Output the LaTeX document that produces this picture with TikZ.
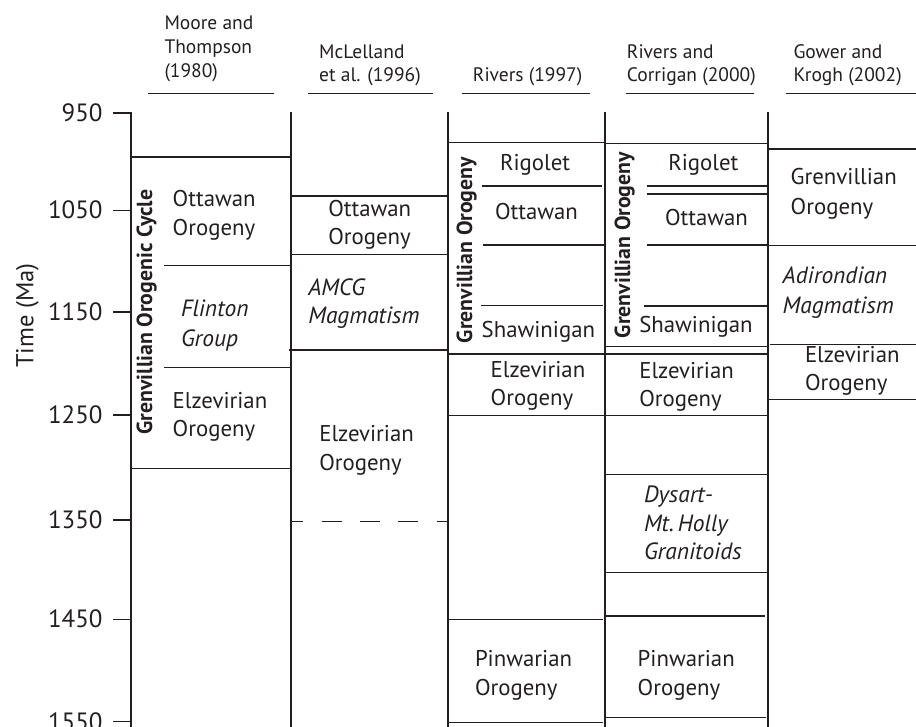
\documentclass[tikz,border=0pt]{standalone}
\usepackage{fontspec}
\setmainfont{PT Sans}
\definecolor{ink}{HTML}{231F20}
\begin{document}
\begin{tikzpicture}[x=1pt,y=-1pt,
  hl/.style={line width=1.5pt, draw=ink},
  vl/.style={line width=2pt, draw=ink},
  body/.style={font=\fontsize{22.8}{28.3}\selectfont, inner sep=0pt, outer sep=0pt, anchor=base west, align=left, text=ink},
  ital/.style={body, font=\fontsize{23.5}{28.3}\selectfont\itshape},
  head/.style={font=\fontsize{19.5}{23.4}\selectfont, inner sep=0pt, anchor=base west, align=left, text=ink},
  ticklab/.style={font=\fontsize{25}{28}\selectfont, inner sep=0pt, anchor=base east, text=ink},
  vert/.style={font=\fontsize{21.8}{24}\selectfont\bfseries, rotate=90, anchor=base, inner sep=0pt, text=ink}]
\useasboundingbox (0,0) rectangle (916,727);

% ---------- headers (base anchor = last line) ----------
\node[head] (hMoore) at (164.3,77.7) {Moore and\\[0.9pt]Thompson\\[0.9pt](1980)};
\node[head] (hMcL) at (319,81.7) {McLelland\\et al. (1996)};
\node[head] (hRiv) at (472.7,81.7) {Rivers (1997)};
\node[head] (hRC) at (626.7,81.7) {Rivers and\\Corrigan (2000)};
\node[head] (hGK) at (793.3,81.7) {Gower and\\Krogh (2002)};
\draw[hl] (148.3,93.3) -- (274,93.3);
\draw[hl] (308.3,93.3) -- (433.3,93.3);
\draw[hl] (462.3,93.3) -- (590,93.3);
\draw[hl] (626,93.3) -- (754,93.3);
\draw[hl] (786,93.3) -- (916,93.3);

% ---------- axis ----------
\node[font=\fontsize{24.5}{28}\selectfont, rotate=90, anchor=base, inner sep=0pt, text=ink] (axlab) at (33.3,315.5) {Time (Ma)};
\draw[vl] (113.3,113.3) -- (130.7,113.3) -- (130.7,727);
\foreach \t/\yy in {1050/210.7,1150/312,1250/415,1350/520,1450/619.3,1550/721.7}
  \draw[hl] (113.3,\yy) -- (130.7,\yy);
\foreach \t/\yy in {950/113.3,1050/210.7,1150/312,1250/415,1350/520,1450/619.3,1550/721.7}
  \node[ticklab] (t\t) at (102.7,\yy+8.3) {\t};

% ---------- column borders ----------
\foreach \xx in {290.7,448.3,605,768}
  \draw[vl] (\xx,112.3) -- (\xx,727);

% ---------- column 1 ----------
\draw[hl] (130.7,157) -- (290.7,157);
\draw[hl] (164,265.7) -- (290.7,265.7);
\draw[hl] (164,367.3) -- (290.7,367.3);
\draw[hl] (130.7,468.5) -- (290.7,468.5);
\node[vert] (c1v) at (152,312) {Grenvillian Orogenic Cycle};
\node[body] (c1a) at (172.7,235.3) {Ottawan\\Orogeny};
\node[ital, font=\fontsize{23.5}{30}\selectfont\itshape] (c1b) at (181,346.7) {Flinton\\Group};
\node[body] (c1c) at (172.7,436.3) {Elzevirian\\Orogeny};

% ---------- column 2 ----------
\draw[hl] (290.7,196) -- (448.3,196);
\draw[hl] (290.7,254.3) -- (448.3,254.3);
\draw[hl] (289,350) -- (448.3,350);
\draw[hl, dash pattern=on 20pt off 18.3pt, dash phase=7.3pt] (290.7,521.7) -- (448.3,521.7);
\node[body, font=\fontsize{22.8}{27.5}\selectfont] (c2a) at (328.3,244.2) {Ottawan\\Orogeny};
\node[ital] (c2b) at (308.3,324) {AMCG\\Magmatism};
\node[body] (c2c) at (319.3,470) {Elzevirian\\Orogeny};

% ---------- column 3 ----------
\draw[hl] (448.3,142.7) -- (605,142.7);
\draw[hl] (481.7,186) -- (602,186);
\draw[hl] (482.7,245) -- (604,245);
\draw[hl] (480.7,305.7) -- (603,305.7);
\draw[hl] (448.3,354.2) -- (768,354.2);
\draw[hl] (448.3,415.5) -- (768,415.5);
\draw[hl] (448.3,619.3) -- (602.7,619.3);
\draw[hl] (446.7,722.7) -- (602.7,722.7);
\node[vert] (c3v) at (472,250) {Grenvillian Orogeny};
\node[body] (c3a) at (500,170.7) {Rigolet};
\node[body] (c3b) at (495,220) {Ottawan};
\node[body] (c3c) at (481.7,338) {Shawinigan};
\node[body, font=\fontsize{22.8}{27.5}\selectfont] (c3d) at (490.7,405.2) {Elzevirian\\Orogeny};
\node[body] (c3e) at (475,695) {Pinwarian\\Orogeny};

% ---------- column 4 ----------
\draw[hl] (605,143.3) -- (768,143.3);
\draw[hl] (646.7,186) -- (768,186);
\draw[hl] (646.7,194) -- (768,194);
\draw[hl] (646.7,245) -- (768,245);
\draw[hl] (644,306) -- (768,306);
\draw[hl] (605,346.7) -- (768,346.7);
\draw[hl] (605,474.3) -- (766.7,474.3);
\draw[hl] (605,572.3) -- (767,572.3);
\draw[hl] (605,616) -- (765,616);
\draw[hl] (605,717.7) -- (765.7,717.7);
\node[vert] (c4v) at (630,245) {Grenvillian Orogeny};
\node[body] (c4a) at (668.3,170.7) {Rigolet};
\node[body] (c4b) at (665,226) {Ottawan};
\node[body] (c4c) at (639.3,332.7) {Shawinigan};
\node[body] (c4d) at (639.3,406.6) {Elzevirian\\Orogeny};
\node[ital] (c4e) at (644,559.3) {Dysart-\\Mt.\,Holly\\Granitoids};
\node[body] (c4f) at (637.7,695) {Pinwarian\\Orogeny};

% ---------- column 5 ----------
\draw[hl] (768,149) -- (916,149);
\draw[hl] (768,245.3) -- (916,245.3);
\draw[hl] (770,344.3) -- (916,344.3);
\draw[hl] (768,399.3) -- (916,399.3);
\node[body, font=\fontsize{22.8}{30.7}\selectfont] (c5a) at (790.7,215) {Grenvillian\\Orogeny};
\node[ital, font=\fontsize{23.5}{30}\selectfont\itshape] (c5b) at (782.7,313.3) {Adirondian\\Magmatism};
\node[body] (c5c) at (805,390.6) {Elzevirian\\Orogeny};
\end{tikzpicture}
\end{document}
